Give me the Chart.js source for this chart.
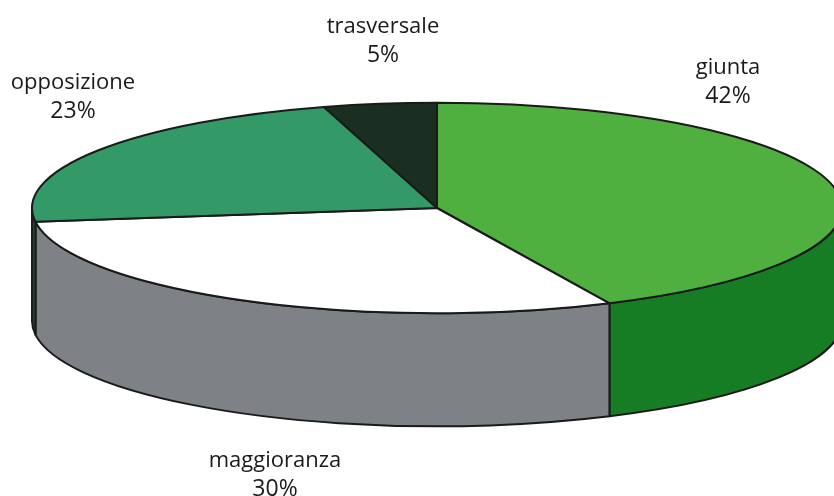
<!DOCTYPE html>
<html lang="it">
<head>
  <meta charset="UTF-8">
  <title>Torta 3D</title>
  <script src="https://cdn.jsdelivr.net/npm/chart.js"></script>
  <style>
    html, body { margin: 0; padding: 0; background: #fff; overflow: hidden; }
    canvas { display: block; }
  </style>
</head>
<body>
  <canvas id="pie" width="834" height="496"></canvas>
  <script>
    // Data read from the picture. Slice shares are measured from the drawn
    // boundaries; the printed percentages are kept as the picture shows them.
    const categories = ['giunta', 'maggioranza', 'opposizione', 'trasversale'];
    const shares = [43.0, 29.9, 22.6, 4.5];
    const percentLabels = ['42%', '30%', '23%', '5%'];

    // Colours per slice: top face and side wall
    const topColors = ['#4fb040', '#ffffff', '#339966', '#1a2e22'];
    const wallColors = ['#177d24', '#7e8185', '#1a4f33', '#1a2e22'];

    // Centre of the two text lines for each slice
    const labelSpots = [[728, 68], [275, 461], [73, 83], [383, 27]];

    const tilt = 0.26;     // ellipse height / width
    const depth = 113;     // wall height in px
    const outline = '#1a1a1a';

    // Draws the library's arc elements as a tilted pie with a side wall
    const tiltedPie = {
      id: 'tiltedPie',
      beforeDatasetDraw(chart, args) {
        const ctx = chart.ctx;
        const arcs = args.meta.data;
        ctx.save();
        ctx.lineWidth = 2;
        ctx.lineJoin = 'round';
        ctx.strokeStyle = outline;

        // side walls, only the part of each slice facing the viewer
        arcs.forEach((arc, i) => {
          const a = Math.max(arc.startAngle, 0);
          const b = Math.min(arc.endAngle, Math.PI);
          if (b <= a) return;
          const rx = arc.outerRadius, ry = rx * tilt;
          ctx.beginPath();
          ctx.ellipse(arc.x, arc.y, rx, ry, 0, a, b);
          ctx.ellipse(arc.x, arc.y + depth, rx, ry, 0, b, a, true);
          ctx.closePath();
          ctx.fillStyle = wallColors[i];
          ctx.fill();
          ctx.stroke();
        });

        // top faces
        arcs.forEach((arc, i) => {
          const rx = arc.outerRadius, ry = rx * tilt;
          ctx.beginPath();
          ctx.moveTo(arc.x, arc.y);
          ctx.ellipse(arc.x, arc.y, rx, ry, 0, arc.startAngle, arc.endAngle);
          ctx.closePath();
          ctx.fillStyle = topColors[i];
          ctx.fill();
          ctx.stroke();
        });
        ctx.restore();
        return false;
      },
      afterDatasetsDraw(chart) {
        const ctx = chart.ctx;
        ctx.save();
        ctx.fillStyle = '#1a1a1a';
        ctx.textAlign = 'center';
        ctx.textBaseline = 'middle';
        categories.forEach((name, i) => {
          const [x, y] = labelSpots[i];
          ctx.font = '22px "Open Sans"';
          ctx.fillText(name, x, y);
          ctx.font = '23px "Open Sans"';
          ctx.fillText(percentLabels[i], x, y + 28);
        });
        ctx.restore();
      }
    };

    new Chart(document.getElementById('pie'), {
      type: 'pie',
      data: {
        labels: categories,
        datasets: [{ data: shares, backgroundColor: topColors }]
      },
      options: {
        responsive: false,
        animation: false,
        radius: 405,
        layout: { padding: { left: 40, bottom: 80 } },
        plugins: { legend: { display: false }, tooltip: { enabled: false } }
      },
      plugins: [tiltedPie]
    });
  </script>
</body>
</html>
